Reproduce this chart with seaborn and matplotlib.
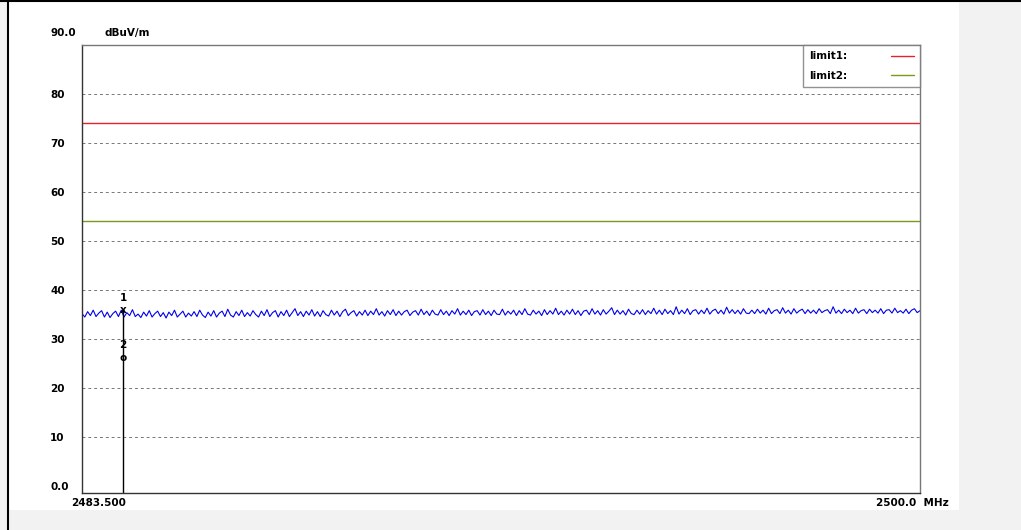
import numpy as np
import pandas as pd
import seaborn as sns
import matplotlib
matplotlib.use("Agg")
import matplotlib.pyplot as plt
from matplotlib.lines import Line2D

# ---------------- data ----------------
f_start, f_stop = 2483.5, 2500.0
trace_db = [
    35.2, 34.5, 35.6, 34.8, 35.9, 34.6, 35.3, 35.8, 34.5, 35.5, 34.4, 35.2, 35.7, 34.6, 35.9, 34.5, 35.4, 34.8, 36.0, 34.6,
    35.1, 34.4, 35.5, 34.7, 35.8, 34.5, 35.2, 35.7, 34.6, 35.4, 34.3, 35.5, 34.8, 35.9, 34.5, 35.1, 35.7, 34.5, 35.3, 34.7,
    35.6, 34.6, 35.9, 34.9, 34.4, 35.5, 34.7, 35.8, 34.5, 35.3, 35.7, 34.6, 36.1, 34.9, 34.5, 35.6, 34.8, 35.9, 34.6, 35.4,
    34.7, 35.8, 35.0, 34.5, 35.7, 34.8, 36.0, 34.6, 35.4, 35.8, 34.5, 35.6, 34.8, 35.9, 34.6, 35.4, 36.2, 34.8, 35.6, 34.6,
    35.7, 34.9, 36.0, 34.7, 35.6, 34.6, 35.8, 35.0, 34.7, 35.9, 34.9, 35.7, 34.6, 35.6, 36.1, 34.8, 35.4, 35.8, 34.7, 35.6,
    34.9, 35.9, 34.8, 35.7, 35.0, 36.2, 34.9, 35.6, 34.7, 35.8, 35.0, 36.0, 34.8, 35.7, 34.9, 35.6, 35.9, 34.8, 35.5, 35.8,
    34.9, 36.1, 35.0, 35.7, 34.8, 35.9, 35.1, 34.9, 36.0, 35.0, 35.7, 34.8, 35.8, 35.1, 36.2, 34.9, 35.7, 35.0, 35.9, 34.8,
    35.6, 35.8, 34.9, 36.0, 35.0, 35.7, 34.8, 35.9, 35.1, 35.0, 36.1, 34.9, 35.7, 35.1, 35.9, 34.8, 35.8, 35.0, 36.2, 35.1,
    34.9, 35.9, 35.1, 35.7, 34.8, 36.0, 35.0, 35.8, 35.1, 36.3, 35.0, 35.7, 34.9, 35.9, 35.1, 36.1, 35.0, 35.8, 34.8, 35.7,
    35.9, 35.0, 36.2, 35.1, 35.8, 34.9, 36.0, 35.1, 35.7, 36.4, 35.0, 35.9, 35.1, 35.8, 34.9, 36.1, 35.2, 35.0, 35.9, 35.1,
    36.0, 35.0, 35.8, 35.2, 36.3, 35.1, 35.9, 35.0, 36.1, 35.2, 35.8, 35.0, 36.6, 35.1, 35.9, 35.2, 36.2, 35.0, 35.8, 36.0,
    35.1, 35.9, 35.2, 36.3, 35.1, 35.8, 36.1, 35.2, 35.9, 35.1, 36.5, 35.3, 36.0, 35.2, 35.9, 35.1, 36.2, 35.3, 35.2, 35.9,
    35.2, 36.1, 35.3, 35.9, 35.1, 36.3, 35.2, 35.8, 36.0, 35.2, 36.4, 35.3, 35.9, 35.1, 36.2, 35.3, 35.8, 36.1, 35.2, 36.0,
    35.3, 35.9, 35.2, 36.2, 35.4, 35.8, 36.0, 35.2, 36.6, 35.3, 35.9, 35.2, 36.1, 35.4, 35.9, 35.2, 36.3, 35.3, 35.8, 36.0,
    35.2, 36.1, 35.4, 35.9, 35.3, 36.2, 35.2, 35.9, 36.0, 35.3, 36.3, 35.4, 35.8, 35.3, 36.1, 35.2, 35.9, 36.2, 35.4, 35.8,
]
limit1_db = 74.0
limit2_db = 54.0
marker_freq = 2484.31
marker1_db = 36.0
marker2_db = 27.4
y_ticks = [0, 10, 20, 30, 40, 50, 60, 70, 80]
y_tick_labels = ["0.0", "10", "20", "30", "40", "50", "60", "70", "80"]
x_tick_labels = ["2483.500", "2500.0  MHz"]
y_top_label = "90.0"
unit_label = "dBuV/m"
legend_labels = ["limit1:", "limit2:"]

freqs = np.linspace(f_start, f_stop, len(trace_db))
df = pd.DataFrame({"freq": freqs, "level": trace_db})

# ---------------- style ----------------
sns.set_style("white")
plt.rcParams["font.family"] = ["DejaVu Sans"]
plt.rcParams["text.color"] = "black"
plt.rcParams["ytick.color"] = "black"
FS = 7.5

fig = plt.figure(figsize=(10.21, 5.30), dpi=100)
fig.patch.set_facecolor("#f2f2f2")
# white panel (background axes)
bg = fig.add_axes([9 / 1021, 20 / 530, 950 / 1021, 508 / 530], zorder=-5)
bg.set_facecolor("white")
bg.set_xticks([]); bg.set_yticks([])
for s in bg.spines.values():
    s.set_visible(False)
# outer black frame lines (top and left)
fig.add_artist(Line2D([0, 1], [1 - 1 / 530, 1 - 1 / 530], transform=fig.transFigure, color="black", lw=1.5))
fig.add_artist(Line2D([8 / 1021, 8 / 1021], [0, 1], transform=fig.transFigure, color="black", lw=1.5))

L, R, T, B = 82, 920, 45, 493
ax = fig.add_axes([L / 1021, 1 - B / 530, (R - L) / 1021, (B - T) / 530], zorder=2)
ax.set_facecolor("white")

sns.lineplot(data=df, x="freq", y="level", ax=ax, color="#0000ee", lw=0.8)
ax.axhline(limit1_db, color="#e8222a", lw=1.0)
ax.axhline(limit2_db, color="#7a9a1a", lw=1.0)

for y in y_ticks[1:]:
    ax.axhline(y, color="#777777", lw=0.7, ls=(0, (3, 3)), zorder=0)

ax.set_xlim(f_start, f_stop)
ax.set_ylim(-1.4, 90)
ax.set_yticks(y_ticks)
ax.set_yticklabels(y_tick_labels, fontsize=FS, fontweight="bold", ha="left")
ax.tick_params(axis="y", length=0, pad=23)
ax.set_xticks([])
ax.set_xlabel("")
ax.set_ylabel("")
for s in ax.spines.values():
    s.set_color("#777777")
    s.set_linewidth(1.0)
ax.spines["left"].set_color("#333333")
ax.spines["bottom"].set_color("#333333")

# marker
ax.plot([marker_freq, marker_freq], [-1.4, marker1_db], color="black", lw=1.0)
ax.text(marker_freq, marker1_db, "x", ha="center", va="center", fontsize=FS, fontweight="bold")
ax.text(marker_freq, marker1_db + 2.4, "1", ha="center", va="center", fontsize=FS, fontweight="bold")
ax.text(marker_freq, marker2_db + 1.3, "2", ha="center", va="center", fontsize=FS, fontweight="bold")
ax.text(marker_freq, marker2_db - 1.2, "o", ha="center", va="center", fontsize=FS, fontweight="bold")

# header text
fig.text(50 / 1021, 1 - 33 / 530, y_top_label, fontsize=FS, fontweight="bold", va="center", ha="left")
fig.text(104 / 1021, 1 - 33 / 530, unit_label, fontsize=FS, fontweight="bold", va="center", ha="left")

# x labels
fig.text(99 / 1021, 1 - 503 / 530, x_tick_labels[0], fontsize=FS, fontweight="bold", va="center", ha="center")
fig.text(876 / 1021, 1 - 503 / 530, x_tick_labels[1], fontsize=FS, fontweight="bold", va="center", ha="left")

# legend
handles = [Line2D([], [], color="#e8222a", lw=1.0), Line2D([], [], color="#7a9a1a", lw=1.0)]
leg = ax.legend(handles, legend_labels, loc="upper right", markerfirst=False,
                borderaxespad=0, frameon=True, fancybox=False, handlelength=2.2,
                handletextpad=4.2, labelspacing=0.9, borderpad=0.6,
                prop={"size": FS, "weight": "bold"})
leg.get_frame().set_edgecolor("#777777")
leg.get_frame().set_linewidth(1.0)

fig.savefig("out.png", dpi=100)
